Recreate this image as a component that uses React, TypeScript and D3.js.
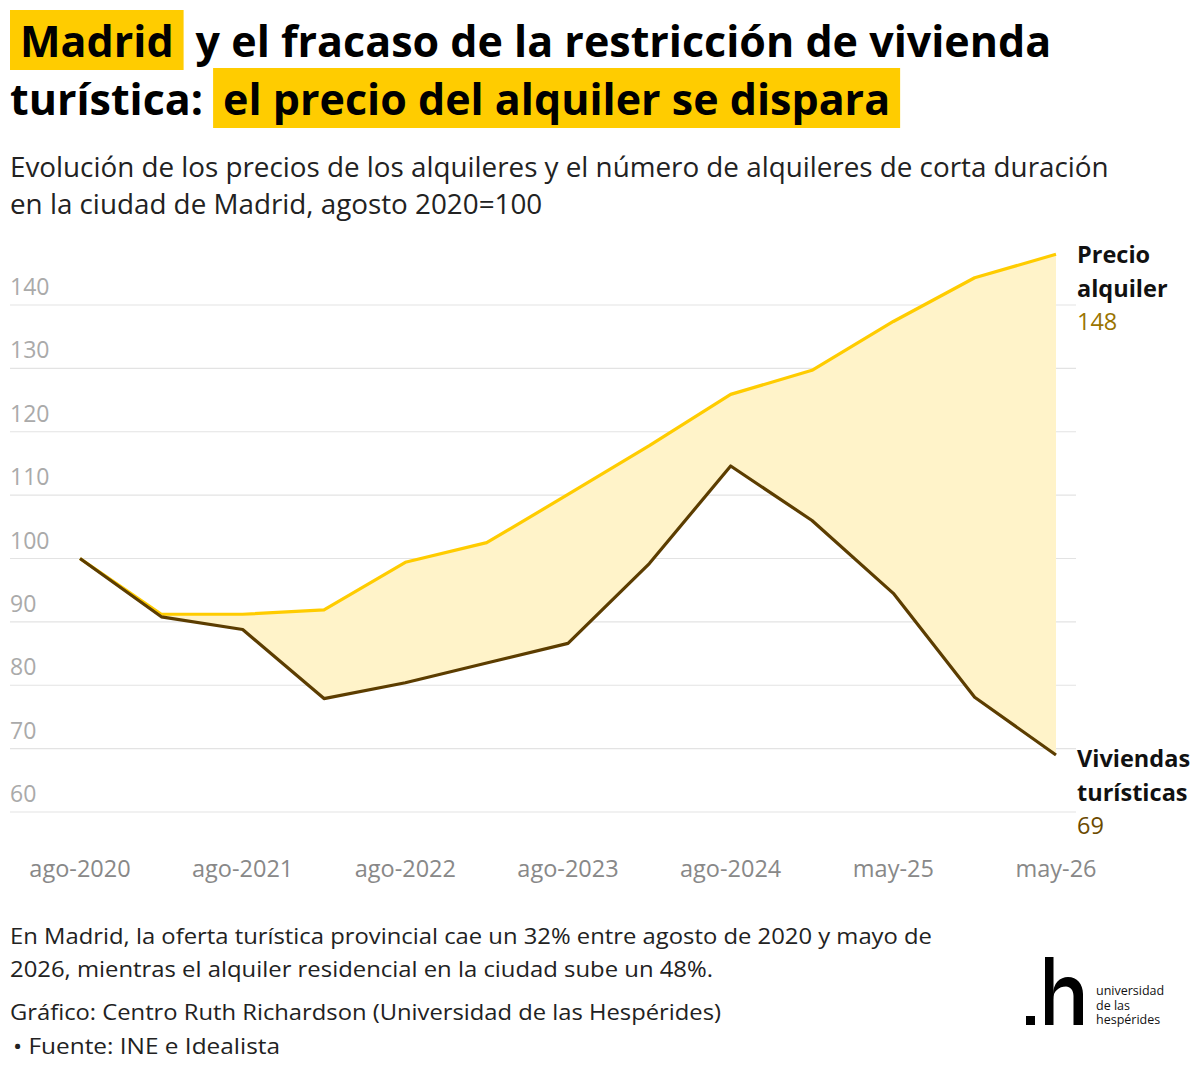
import React, { useEffect, useRef } from "react";
import * as d3 from "d3";

// Semiannual periods, agosto 2020 = 100
const periods = [
  "ago-2020", "feb-2021", "ago-2021", "feb-2022", "ago-2022", "feb-2023", "ago-2023",
  "feb-2024", "ago-2024", "nov-24", "may-25", "nov-25", "may-26",
];
const tickLabels = ["ago-2020", "ago-2021", "ago-2022", "ago-2023", "ago-2024", "may-25", "may-26"];
const precioAlquiler = [100, 91.2, 91.2, 91.9, 99.4, 102.5, 110.1, 117.8, 125.9, 129.7, 137.4, 144.3, 148];
const viviendasTuristicas = [100, 90.8, 88.8, 77.9, 80.4, 83.5, 86.6, 99.2, 114.6, 106, 94.5, 78.1, 69];
const yTicks = [60, 70, 80, 90, 100, 110, 120, 130, 140];

const FONT = "'Open Sans', 'Noto Sans', sans-serif";
const YELLOW = "#FFCC00";
const BROWN = "#5C3D00";
const FILL = "#FFF3C9";

export default function App() {
  const ref = useRef<SVGSVGElement>(null);

  useEffect(() => {
    const svg = d3.select(ref.current);
    svg.selectAll("*").remove();

    const x = d3.scalePoint<string>().domain(periods).range([80, 1056]);
    const y = d3.scaleLinear().domain([60, 140]).range([812, 305]);

    // Title with highlighted segments
    const title = svg.append("g");
    const titleSize = 43;
    const addSeg = (txt: string, x0: number, base: number, highlight: boolean, padL: number, padR: number) => {
      const g = title.append("g");
      const t = g
        .append("text")
        .attr("x", x0 + padL)
        .attr("y", base)
        .attr("font-family", FONT)
        .attr("font-weight", 700)
        .attr("font-size", titleSize)
        .attr("fill", "#000")
        .text(txt);
      const w = (t.node() as SVGTextElement).getComputedTextLength();
      if (highlight) {
        g.insert("rect", "text")
          .attr("x", x0)
          .attr("y", base - 47)
          .attr("width", w + padL + padR)
          .attr("height", 60)
          .attr("fill", YELLOW);
      }
      return x0 + padL + w + padR;
    };
    let cx = addSeg("Madrid", 10, 57, true, 10, 10);
    addSeg("y el fracaso de la restricción de vivienda", cx + 12, 57, false, 0, 0);
    cx = addSeg("turística:", 10, 115, false, 0, 0);
    addSeg("el precio del alquiler se dispara", cx + 10, 115, true, 10, 10);

    // Subtitle
    const sub = ["Evolución de los precios de los alquileres y el número de alquileres de corta duración", "en la ciudad de Madrid, agosto 2020=100"];
    sub.forEach((s, i) =>
      svg
        .append("text")
        .attr("x", 10)
        .attr("y", 177 + i * 37)
        .attr("font-family", FONT)
        .attr("font-size", 27.8)
        .attr("fill", "#222")
        .text(s)
    );

    // Grid and y labels
    const grid = svg.append("g");
    yTicks.forEach((v) => {
      grid
        .append("line")
        .attr("x1", 10)
        .attr("x2", 1076)
        .attr("y1", y(v))
        .attr("y2", y(v))
        .attr("stroke", "#e3e3e3")
        .attr("stroke-width", 1.2);
      grid
        .append("text")
        .attr("x", 10)
        .attr("y", y(v) - 10)
        .attr("font-family", FONT)
        .attr("font-size", 23)
        .attr("fill", "#aaaaaa")
        .text(v);
    });

    // Area between the two series
    const area = d3
      .area<number>()
      .x((_, i) => x(periods[i]) as number)
      .y0((_, i) => y(viviendasTuristicas[i]))
      .y1((d) => y(d));
    svg.append("path").datum(precioAlquiler).attr("d", area).attr("fill", FILL);

    const line = d3
      .line<number>()
      .x((_, i) => x(periods[i]) as number)
      .y((d) => y(d));
    svg
      .append("path")
      .datum(precioAlquiler)
      .attr("d", line)
      .attr("fill", "none")
      .attr("stroke", YELLOW)
      .attr("stroke-width", 3.2)
      .attr("stroke-linejoin", "round");
    svg
      .append("path")
      .datum(viviendasTuristicas)
      .attr("d", line)
      .attr("fill", "none")
      .attr("stroke", BROWN)
      .attr("stroke-width", 3.2)
      .attr("stroke-linejoin", "round");

    // X axis labels
    tickLabels.forEach((lab) => {
      svg
        .append("text")
        .attr("x", x(lab) as number)
        .attr("y", 877)
        .attr("text-anchor", "middle")
        .attr("font-family", FONT)
        .attr("font-size", 23.5)
        .attr("fill", "#888")
        .text(lab);
    });

    // End labels
    const last = periods.length - 1;
    const endLabel = (lines: string[], value: number, y0: number, color: string) => {
      lines.forEach((l, i) =>
        svg
          .append("text")
          .attr("x", 1077)
          .attr("y", y0 + i * 34)
          .attr("font-family", FONT)
          .attr("font-weight", 700)
          .attr("font-size", 23.5)
          .attr("fill", "#111")
          .text(l)
      );
      svg
        .append("text")
        .attr("x", 1077)
        .attr("y", y0 + lines.length * 34 - 1)
        .attr("font-family", FONT)
        .attr("font-size", 23.5)
        .attr("fill", color)
        .text(Math.round(value));
    };
    endLabel(["Precio", "alquiler"], precioAlquiler[last], 263, "#9A7400");
    endLabel(["Viviendas", "turísticas"], viviendasTuristicas[last], 767, "#6B4A00");

    // Footer notes
    const notes: [string, number, number][] = [
      ["En Madrid, la oferta turística provincial cae un 32% entre agosto de 2020 y mayo de", 944, 922],
      ["2026, mientras el alquiler residencial en la ciudad sube un 48%.", 977, 703],
      ["Gráfico: Centro Ruth Richardson (Universidad de las Hespérides)", 1020, 711],
      ["• Fuente: INE e Idealista", 1054, 267],
    ];
    notes.forEach(([s, yy, len], i) =>
      svg
        .append("text")
        .attr("x", i === 3 ? 13 : 10)
        .attr("y", yy)
        .attr("font-family", FONT)
        .attr("font-size", 22)
        .attr("fill", "#222")
        .attr("textLength", len)
        .attr("lengthAdjust", "spacingAndGlyphs")
        .text(s)
    );

    // Logo
    const logo = svg.append("g");
    logo.append("rect").attr("x", 1026).attr("y", 1016).attr("width", 9).attr("height", 9).attr("fill", "#000");
    logo.append("rect").attr("x", 1045).attr("y", 957).attr("width", 8.5).attr("height", 68).attr("fill", "#000");
    logo
      .append("path")
      .attr(
        "d",
        "M1053,995 C1053,983 1060,977 1068,977 C1077,977 1083,984 1083,994 L1083,1025 L1073.5,1025 L1073.5,996 C1073.5,990 1070,986.5 1066,986.5 C1059,986.5 1053,991 1053,1000 Z"
      )
      .attr("fill", "#000");
    ["universidad", "de las", "hespérides"].forEach((s, i) =>
      logo
        .append("text")
        .attr("x", 1096)
        .attr("y", 995 + i * 14.7)
        .attr("font-family", FONT)
        .attr("font-size", 12.5)
        .attr("fill", "#111")
        .text(s)
    );
  }, []);

  return (
    <svg
      ref={ref}
      width={1200}
      height={1072}
      style={{ position: "absolute", left: 0, top: 0, background: "#fff" }}
    />
  );
}
